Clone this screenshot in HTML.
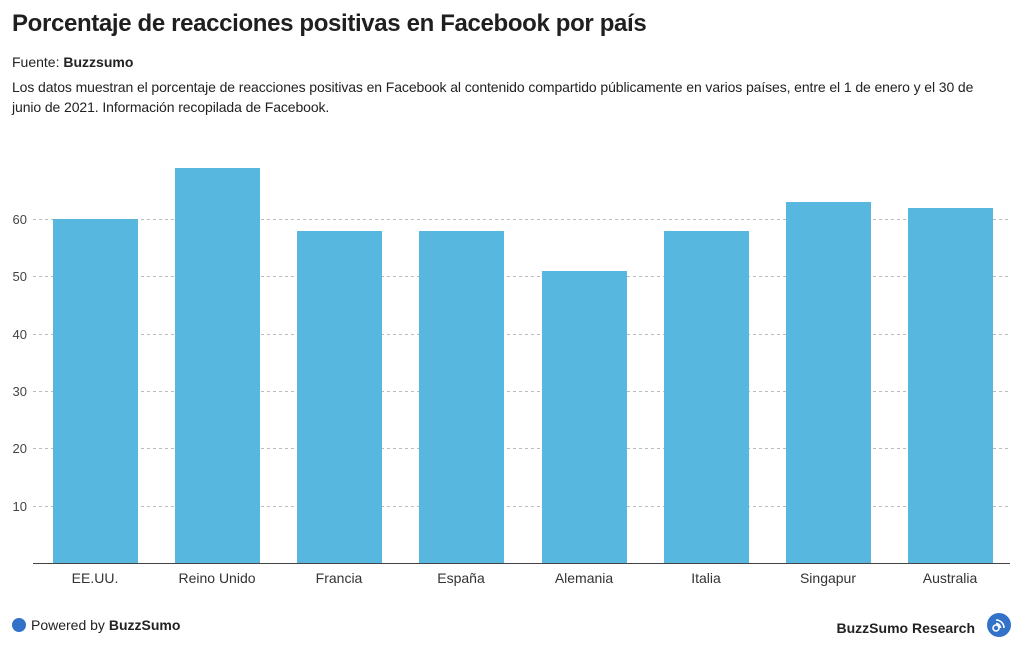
<!DOCTYPE html>
<html><head><meta charset="utf-8"><style>
body{margin:0;width:1024px;height:656px;background:#fff;font-family:"Liberation Sans",sans-serif;color:#222;overflow:hidden;position:relative}
.t{position:absolute;left:12px;top:10px;font-size:24px;letter-spacing:-0.35px;font-weight:bold;color:#1f1f1f}
.s{position:absolute;left:12px;top:54px;font-size:14px}
.d{position:absolute;left:12px;top:77px;width:975px;font-size:14px;letter-spacing:-0.1px;line-height:20px}
</style></head><body>
<div class="t">Porcentaje de reacciones positivas en Facebook por país</div>
<div class="s">Fuente: <b>Buzzsumo</b></div>
<div class="d">Los datos muestran el porcentaje de reacciones positivas en Facebook al contenido compartido públicamente en varios países, entre el 1 de enero y el 30 de junio de 2021. Información recopilada de Facebook.</div>
<svg width="1024" height="656" style="position:absolute;left:0;top:0" font-family="Liberation Sans, sans-serif">
<g stroke="#bbb" stroke-dasharray="3,3" stroke-width="1">
<line x1="33" x2="1010" y1="219.5" y2="219.5"/><line x1="33" x2="1010" y1="276.5" y2="276.5"/>
<line x1="33" x2="1010" y1="334.5" y2="334.5"/><line x1="33" x2="1010" y1="391.5" y2="391.5"/>
<line x1="33" x2="1010" y1="448.5" y2="448.5"/><line x1="33" x2="1010" y1="506.5" y2="506.5"/>
</g>
<g font-size="13" fill="#444" text-anchor="end">
<text x="27" y="224">60</text><text x="27" y="281">50</text><text x="27" y="339">40</text>
<text x="27" y="396">30</text><text x="27" y="453">20</text><text x="27" y="511">10</text>
</g>
<g fill="#58b7df">
<rect x="53" y="219" width="85" height="344"/>
<rect x="175" y="168" width="85" height="395"/>
<rect x="297" y="231" width="85" height="332"/>
<rect x="419" y="231" width="85" height="332"/>
<rect x="542" y="271" width="85" height="292"/>
<rect x="664" y="231" width="85" height="332"/>
<rect x="786" y="202" width="85" height="361"/>
<rect x="908" y="208" width="85" height="355"/>
</g>
<line x1="33" x2="1010" y1="563.5" y2="563.5" stroke="#444"/>
<g font-size="14" fill="#333" text-anchor="middle">
<text x="95" y="583">EE.UU.</text><text x="217" y="583">Reino Unido</text><text x="339" y="583">Francia</text>
<text x="461" y="583">España</text><text x="584" y="583">Alemania</text><text x="706" y="583">Italia</text>
<text x="828" y="583">Singapur</text><text x="950" y="583">Australia</text>
</g>
<circle cx="19" cy="625" r="7" fill="#3273c9"/>
<text x="31" y="630" font-size="14" fill="#222">Powered by <tspan font-weight="bold">BuzzSumo</tspan></text>
<text x="975" y="633" font-size="14" font-weight="bold" fill="#222" text-anchor="end">BuzzSumo Research</text>
<circle cx="999" cy="625" r="12" fill="#3273c9"/>
<circle cx="996" cy="628" r="3" fill="none" stroke="#fff" stroke-width="1.6"/>
<path d="M996 620a8 8 0 0 1 8 8M996 623.5a4.5 4.5 0 0 1 4.5 4.5" fill="none" stroke="#fff" stroke-width="1.6"/>
</svg>
</body></html>
